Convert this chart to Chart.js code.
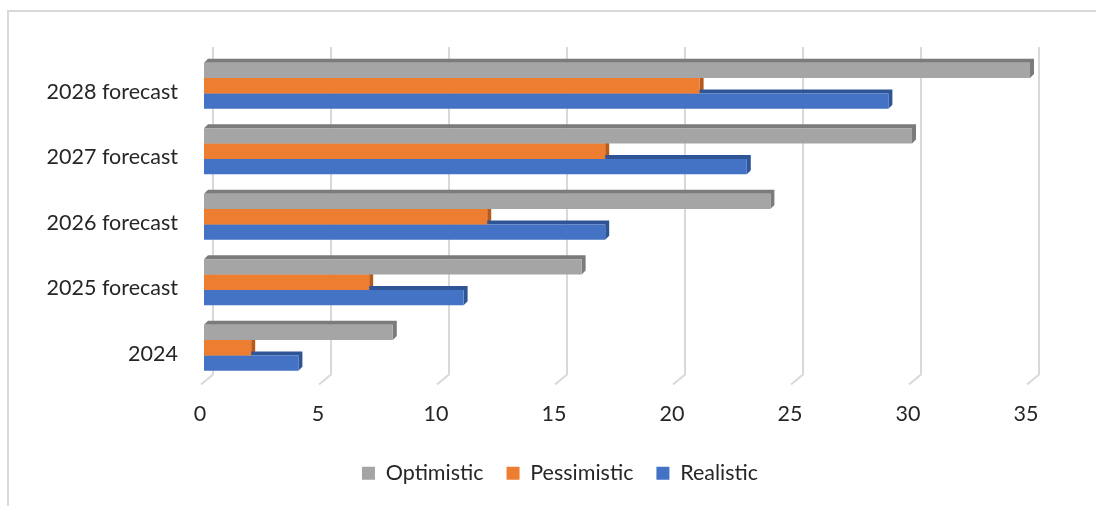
<!DOCTYPE html>
<html>
<head>
<meta charset="utf-8">
<script src="https://cdn.jsdelivr.net/npm/chart.js@4"></script>
<style>
  html, body { margin: 0; padding: 0; background: #fff; overflow: hidden; }
  #wrap { position: relative; width: 1096px; height: 506px; }
  #frame { position: absolute; left: 7px; top: 10px; width: 1200px; height: 600px;
           border: 2px solid #d9d9d9; pointer-events: none; }
</style>
</head>
<body>
<div id="wrap">
  <canvas id="chart" width="1096" height="506"></canvas>
  <div id="frame"></div>
</div>
<script>
// chart data
const categories = ['2024', '2025 forecast', '2026 forecast', '2027 forecast', '2028 forecast'];
const optimistic = [8, 16, 24, 30, 35];
const pessimistic = [2, 7, 12, 17, 21];
const realistic = [4, 11, 17, 23, 29];
const xTicks = [0, 5, 10, 15, 20, 25, 30, 35];

const DEPTH = 4;
const FONT = { family: 'Lato', size: 21.5 };

// back wall gridlines with the little floor diagonal, like Excel 3D bars
const wallGrid = {
  id: 'wallGrid',
  beforeDatasetsDraw(chart) {
    const ctx = chart.ctx;
    const x = chart.scales.x;
    const area = chart.chartArea;
    ctx.save();
    ctx.strokeStyle = '#d9d9d9';
    ctx.lineWidth = 2;
    xTicks.forEach(v => {
      const px = x.getPixelForValue(v);
      ctx.beginPath();
      ctx.moveTo(px + 9, area.top - 6);
      ctx.lineTo(px + 9, area.bottom - 6);
      ctx.lineTo(px - 3, area.bottom + 4);
      ctx.stroke();
    });
    ctx.restore();
  }
};

// top and side faces of each bar
const barFaces = {
  id: 'barFaces',
  beforeDatasetsDraw(chart) {
    const ctx = chart.ctx;
    ctx.save();
    chart.data.datasets.forEach((ds, i) => {
      const meta = chart.getDatasetMeta(i);
      meta.data.forEach(bar => {
        const top = bar.y - bar.height / 2;
        const bottom = bar.y + bar.height / 2;
        ctx.fillStyle = ds.faceColor;
        ctx.beginPath();
        ctx.moveTo(bar.base, top);
        ctx.lineTo(bar.base + DEPTH, top - DEPTH);
        ctx.lineTo(bar.x + DEPTH, top - DEPTH);
        ctx.lineTo(bar.x + DEPTH, bottom - DEPTH);
        ctx.lineTo(bar.x, bottom);
        ctx.lineTo(bar.x, top);
        ctx.closePath();
        ctx.fill();
      });
    });
    ctx.restore();
  }
};

// legend sits centred on the whole canvas in the original, not the padded box
const legendShift = {
  id: 'legendShift',
  afterLayout(chart) {
    if (chart.legend) {
      chart.legend.left += 45;
      chart.legend.right += 45;
    }
  }
};

new Chart(document.getElementById('chart'), {
  type: 'bar',
  data: {
    labels: categories,
    datasets: [
      { label: 'Optimistic', data: optimistic, backgroundColor: '#a5a5a5', faceColor: '#7b7b7b' },
      { label: 'Pessimistic', data: pessimistic, backgroundColor: '#ed7d31', faceColor: '#b65a1c' },
      { label: 'Realistic', data: realistic, backgroundColor: '#4472c4', faceColor: '#2f5597' }
    ]
  },
  plugins: [wallGrid, barFaces, legendShift],
  options: {
    indexAxis: 'y',
    responsive: false,
    animation: false,
    categoryPercentage: 0.7,
    barPercentage: 1.0,
    layout: { padding: { left: 0, right: 66, top: 53, bottom: 12 } },
    scales: {
      y: {
        reverse: true,
        grid: { display: false },
        border: { display: false },
        ticks: { color: '#262626', font: FONT, padding: 18, labelOffset: 6 },
        afterFit(scale) { scale.width = 204; }
      },
      x: {
        min: 0,
        max: 35,
        grid: { display: false },
        border: { display: false },
        ticks: { stepSize: 5, color: '#262626', font: FONT, padding: 13, labelOffset: -4 },
        afterFit(scale) { scale.height = 59; }
      }
    },
    plugins: {
      legend: {
        position: 'bottom',
        labels: {
          color: '#262626',
          font: FONT,
          boxWidth: 13,
          boxHeight: 13,
          padding: 23
        }
      },
      tooltip: { enabled: false }
    }
  }
});
</script>
</body>
</html>
